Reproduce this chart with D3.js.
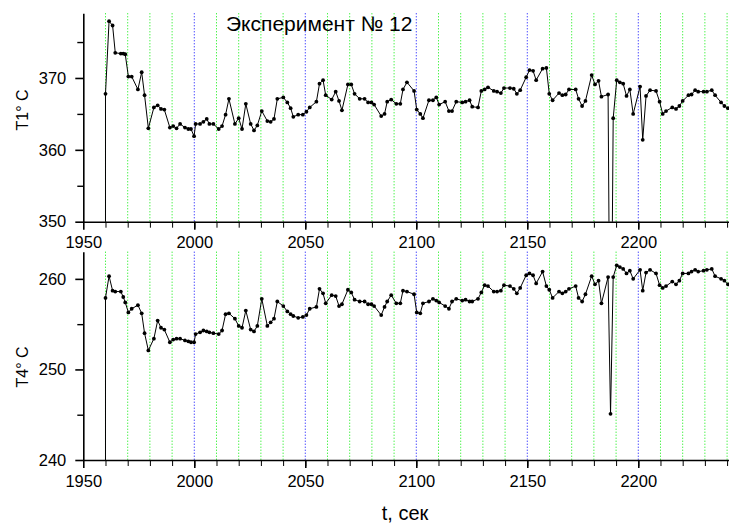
<!DOCTYPE html>
<html>
<head>
<meta charset="utf-8">
<script src="https://cdn.jsdelivr.net/npm/d3@7"></script>
<style>
  body { margin: 0; background: #fff; }
  svg text { font-family: "Liberation Sans", Arial, sans-serif; fill: #000; }
  .axis path, .axis line { stroke: #000; }
</style>
</head>
<body>
<div id="chart"></div>
<script>
// time, s (first entry is the zero start point that draws the drop line)
var times = [
  1960, 1960, 1961.6, 1963.2, 1964.4, 1966.9, 1968.0, 1968.9, 1970.3, 1971.8,
  1974.6, 1976.3, 1977.6, 1979.3, 1981.8, 1983.5, 1985.0, 1986.5, 1989.0, 1990.5,
  1992.0, 1993.6, 1995.8, 1997.3, 1998.5, 1999.9, 2000.6, 2002.6, 2004.1, 2005.6,
  2006.8, 2008.6, 2011.0, 2012.5, 2014.1, 2015.6, 2018.3, 2020.0, 2021.5, 2023.2,
  2025.4, 2026.9, 2028.4, 2030.4, 2032.9, 2034.4, 2035.9, 2037.4, 2040.1, 2041.9,
  2043.4, 2044.6, 2046.8, 2048.9, 2050.5, 2052.0, 2055.0, 2056.4, 2058.0, 2059.2,
  2061.9, 2063.7, 2065.2, 2066.5, 2069.2, 2070.7, 2072.2, 2074.5, 2076.7, 2078.3,
  2079.8, 2081.0, 2084.2, 2085.7, 2086.9, 2088.7, 2091.0, 2092.8, 2094.0, 2095.8,
  2099.0, 2100.2, 2101.8, 2103.0, 2105.7, 2107.5, 2109.0, 2110.3, 2113.0, 2114.7,
  2116.1, 2118.0, 2120.7, 2122.2, 2124.0, 2125.2, 2127.8, 2129.3, 2130.8, 2132.3,
  2134.9, 2136.4, 2138.1, 2139.5, 2142.2, 2143.9, 2145.3, 2146.8, 2149.5, 2151.0,
  2152.6, 2154.0, 2156.9, 2158.6, 2159.9, 2161.4, 2164.3, 2165.8, 2167.3, 2168.8,
  2171.8, 2173.1, 2174.7, 2176.2, 2179.0, 2180.5, 2182.1, 2183.4, 2186.4, 2187.5,
  2188.7, 2190.3, 2191.7, 2193.2, 2194.7, 2196.2, 2197.7, 2200.8, 2202.0, 2203.5,
  2205.3, 2208.0, 2209.6, 2211.0, 2212.5, 2215.3, 2217.0, 2218.5, 2220.0, 2222.6,
  2224.0, 2225.6, 2227.0, 2229.4, 2230.9, 2233.1, 2234.6, 2237.3, 2238.8, 2240.4
];

var t1Values = [
  0, 367.8, 377.9, 377.3, 373.5, 373.4, 373.4, 373.3, 370.2, 370.2,
  368.4, 370.8, 367.6, 363.0, 365.9, 366.2, 365.7, 365.6, 363.1, 363.3,
  363.0, 363.6, 363.1, 362.9, 362.9, 361.9, 363.6, 363.6, 363.9, 364.3,
  363.6, 363.6, 362.9, 363.3, 364.9, 367.1, 363.6, 364.4, 362.9, 366.4,
  363.6, 362.7, 363.4, 365.4, 364.0, 363.9, 364.3, 367.1, 367.3, 366.6,
  365.8, 364.6, 364.9, 364.9, 365.3, 365.9, 366.7, 369.2, 369.7, 367.6,
  367.0, 368.1, 366.8, 365.5, 369.1, 369.1, 367.8, 367.1, 367.1, 366.6,
  366.6, 366.3, 364.7, 365.0, 366.7, 367.0, 366.4, 366.4, 368.4, 369.4,
  368.2, 365.6, 365.0, 364.4, 366.9, 366.9, 367.3, 366.3, 366.7, 365.4,
  365.4, 366.7, 366.6, 366.7, 366.9, 366.0, 365.9, 368.2, 368.4, 368.7,
  368.2, 368.1, 367.9, 368.6, 368.6, 368.5, 367.8, 368.3, 370.1, 371.1,
  371.0, 369.7, 371.3, 371.4, 367.8, 366.9, 367.9, 367.6, 367.7, 368.4,
  368.4, 367.1, 366.1, 366.8, 370.4, 369.1, 369.6, 367.4, 367.7, 318.0,
  364.4, 369.7, 369.4, 369.2, 367.5, 368.4, 365.0, 368.8, 361.4, 367.5,
  368.3, 368.2, 366.7, 365.0, 365.4, 365.9, 365.7, 366.1, 366.8, 367.6,
  367.7, 368.3, 368.1, 368.1, 368.1, 368.3, 367.6, 366.6, 366.1, 365.8
];

var t4Values = [
  0, 257.9, 260.3, 258.7, 258.6, 258.6, 258.0, 257.4, 256.3, 256.7,
  257.1, 256.2, 254.0, 252.1, 253.4, 255.4, 254.6, 254.4, 253.0, 253.3,
  253.4, 253.4, 253.2, 253.1, 253.0, 253.0, 253.9, 254.1, 254.3, 254.2,
  254.1, 254.0, 253.9, 254.3, 256.1, 256.2, 255.6, 254.8, 254.6, 256.5,
  254.4, 254.2, 254.8, 257.8, 254.8, 255.2, 255.6, 257.5, 257.0, 256.4,
  256.1, 255.9, 255.7, 255.8, 256.0, 256.7, 256.9, 258.9, 258.4, 257.3,
  258.2, 258.1, 257.0, 257.2, 258.8, 258.5, 257.7, 257.5, 257.5, 257.2,
  257.2, 257.0, 256.0, 256.9, 257.5, 258.2, 257.3, 257.3, 258.7, 258.6,
  258.3, 256.3, 256.2, 257.3, 257.5, 257.8, 257.6, 257.4, 257.0, 256.7,
  257.5, 257.8, 257.6, 257.7, 257.5, 257.5, 257.8, 258.5, 259.3, 259.2,
  258.6, 258.6, 258.7, 259.3, 259.2, 258.9, 258.4, 259.0, 260.4, 260.6,
  260.4, 259.5, 260.8, 259.2, 258.8, 257.9, 258.6, 258.4, 258.6, 258.9,
  259.2, 257.9, 257.5, 258.3, 260.3, 259.4, 259.8, 257.3, 260.2, 245.1,
  260.2, 261.5, 261.3, 261.1, 260.6, 260.9, 260.0, 261.0, 258.7, 260.7,
  261.0, 260.6, 259.3, 259.0, 259.2, 259.7, 259.4, 259.8, 260.6, 260.6,
  260.8, 261.0, 260.8, 260.9, 261.0, 261.1, 260.3, 260.0, 259.8, 259.4
];

var xMajorTicks = [1950, 2000, 2050, 2100, 2150, 2200];
var gridTimes = d3.range(1960, 2241, 10);
var titleText = "Эксперимент № 12";
var xLabel = "t, сек";

var width = 729, height = 527;

var svg = d3.select("#chart").append("svg")
  .attr("width", width)
  .attr("height", height);

var x = d3.scaleLinear()
  .domain([1950, 2241])
  .range([83.3, 729.3]);

// the two stacked panels
var panels = [
  { id: "p1", values: t1Values, domain: [350, 379], range: [221.7, 13.3],
    yMajor: [350, 360, 370], yMinor: [355, 365, 375], label: "T1° C", labelY: 110 },
  { id: "p4", values: t4Values, domain: [240, 263], range: [460, 251.7],
    yMajor: [240, 250, 260], yMinor: [245, 255], label: "T4° C", labelY: 367 }
];

panels.forEach(function(p) {
  var y = d3.scaleLinear().domain(p.domain).range(p.range);
  var top = p.range[1], bottom = p.range[0];
  var g = svg.append("g").attr("id", p.id);

  g.append("clipPath").attr("id", "clip-" + p.id)
    .append("rect")
    .attr("x", x.range()[0]).attr("y", top)
    .attr("width", x.range()[1] - x.range()[0])
    .attr("height", bottom - top);

  // dotted verticals, blue every 50 s
  g.append("g").selectAll("line")
    .data(gridTimes)
    .join("line")
    .attr("x1", function(d) { return x(d); })
    .attr("x2", function(d) { return x(d); })
    .attr("y1", top)
    .attr("y2", bottom)
    .attr("stroke", function(d) { return d % 50 === 0 ? "#0000ff" : "#00ee00"; })
    .attr("stroke-width", 1)
    .attr("stroke-dasharray", "1,2");

  var pts = times.map(function(t, i) { return [t, p.values[i]]; });

  var plot = g.append("g").attr("clip-path", "url(#clip-" + p.id + ")");
  plot.append("path")
    .datum(pts)
    .attr("fill", "none")
    .attr("stroke", "#000")
    .attr("stroke-width", 1)
    .attr("d", d3.line()
      .x(function(d) { return x(d[0]); })
      .y(function(d) { return y(d[1]); }));

  plot.selectAll("circle")
    .data(pts.slice(1))
    .join("circle")
    .attr("cx", function(d) { return x(d[0]); })
    .attr("cy", function(d) { return y(d[1]); })
    .attr("r", 1.9)
    .attr("fill", "#000");

  // axes
  var xMinor = g.append("g").attr("class", "axis")
    .attr("transform", "translate(0," + bottom + ")")
    .call(d3.axisBottom(x).tickValues(gridTimes).tickFormat("").tickSize(6).tickSizeOuter(0));
  xMinor.select(".domain").remove();

  g.append("g").attr("class", "axis")
    .attr("transform", "translate(0," + bottom + ")")
    .call(d3.axisBottom(x).tickValues(xMajorTicks).tickFormat(d3.format("d"))
      .tickSize(8).tickPadding(7).tickSizeOuter(0))
    .call(function(a) {
      a.selectAll("text").attr("font-size", 16.5);
      a.selectAll("line, path").attr("stroke-width", 1.6);
    });

  var yMinorAxis = g.append("g").attr("class", "axis")
    .attr("transform", "translate(" + x.range()[0] + ",0)")
    .call(d3.axisLeft(y).tickValues(p.yMinor).tickFormat("").tickSize(6).tickSizeOuter(0));
  yMinorAxis.select(".domain").remove();
  yMinorAxis.selectAll("line").attr("stroke-width", 1.4);

  g.append("g").attr("class", "axis")
    .attr("transform", "translate(" + x.range()[0] + ",0)")
    .call(d3.axisLeft(y).tickValues(p.yMajor).tickSize(8).tickPadding(9).tickSizeOuter(0))
    .call(function(a) {
      a.selectAll("text").attr("font-size", 16.5);
      a.selectAll("line, path").attr("stroke-width", 1.6);
    });

  svg.append("text")
    .attr("transform", "translate(28," + p.labelY + ") rotate(-90)")
    .attr("text-anchor", "middle")
    .attr("font-size", 16)
    .text(p.label);
});

svg.append("text")
  .attr("x", 226)
  .attr("y", 31)
  .attr("font-size", 21)
  .text(titleText);

svg.append("text")
  .attr("x", 405)
  .attr("y", 520)
  .attr("text-anchor", "middle")
  .attr("font-size", 20)
  .text(xLabel);
</script>
</body>
</html>
